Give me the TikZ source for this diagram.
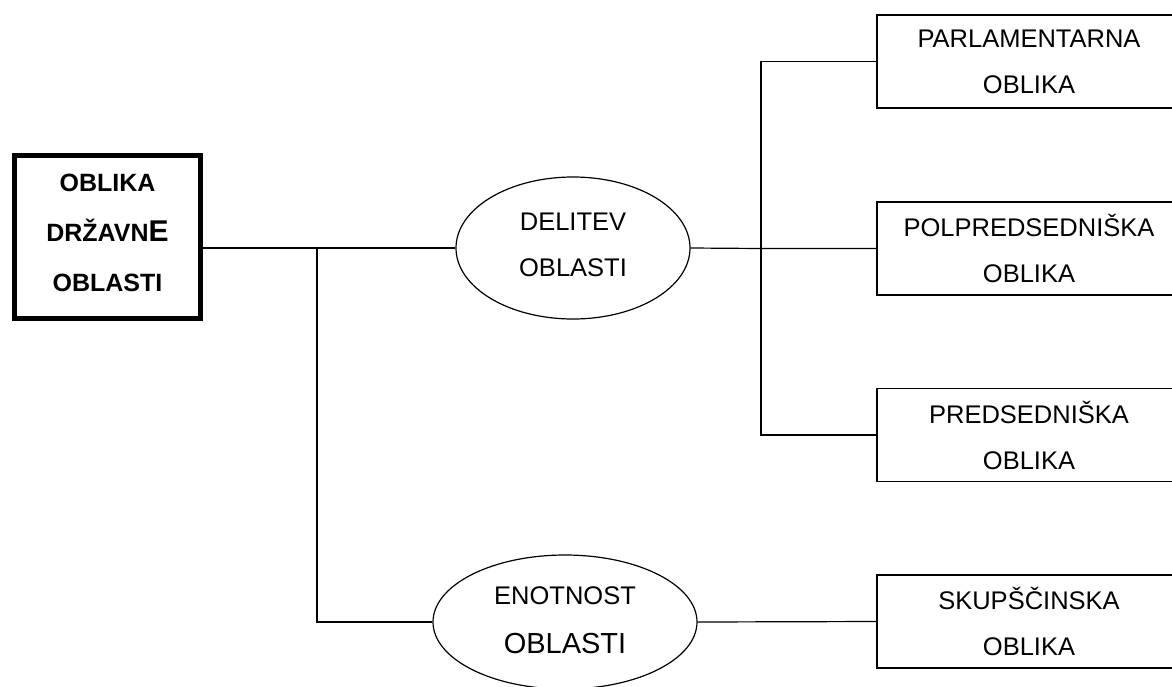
\documentclass[tikz,border=0pt]{standalone}
\usepackage{fontspec}
\setmainfont{Liberation Sans}
\usetikzlibrary{shapes.geometric}
\begin{document}
\begin{tikzpicture}[x=1pt, y=-1pt, line width=1.2pt, line join=miter,
    txt/.style={font=\fontsize{25.5pt}{46pt}\selectfont, align=center, inner sep=0pt},
    mainbox/.style={txt, draw, rectangle, line width=5pt, minimum width=186pt, minimum height=163.5pt,
      font=\fontsize{25pt}{50pt}\selectfont\bfseries, text depth=9pt},
    oval/.style={txt, draw, ellipse, minimum width=234pt, minimum height=142pt, text depth=6pt},
    formbox/.style={txt, draw, rectangle, minimum width=304pt, minimum height=93pt, text depth=-6pt}]
  \useasboundingbox (0,0) rectangle (1172,686);
  \clip (0,0) rectangle (1172,686);
  \def\bx{1029}
  % root
  \node[mainbox] (oblika) at (107.5,237) {OBLIKA\\DRŽAVN{\fontsize{30pt}{50pt}\selectfont E}\\OBLASTI};
  % the two ovals
  \node[oval] (delitev) at (573,248) {DELITEV\\OBLASTI};
  \node[oval, minimum width=264pt, minimum height=134pt, text depth=4pt] (enotnost) at (565,622)
    {ENOTNOST\\[3pt]{\fontsize{29pt}{46pt}\selectfont OBLASTI}};
  % the four forms
  \node[formbox] (parl) at (\bx,61.5) {PARLAMENTARNA\\OBLIKA};
  \node[formbox] (polpred) at (\bx,248.5) {POLPREDSEDNIŠKA\\OBLIKA};
  \node[formbox] (pred) at (\bx,435) {PREDSEDNIŠKA\\OBLIKA};
  \node[formbox] (skup) at (\bx,621.5) {SKUPŠČINSKA\\OBLIKA};
  % connectors
  \coordinate (split) at (317,248);
  \coordinate (fork) at (761,248);
  \draw (delitev.west -| oblika.east) -- (delitev.west);
  \draw (split) |- (enotnost.west);
  \draw (delitev.east) -- (fork |- polpred.west) -- (polpred.west);
  \draw (parl.west) -| (fork) |- (pred.west);
  \draw (enotnost.east) -- (skup.west);
\end{tikzpicture}
\end{document}
